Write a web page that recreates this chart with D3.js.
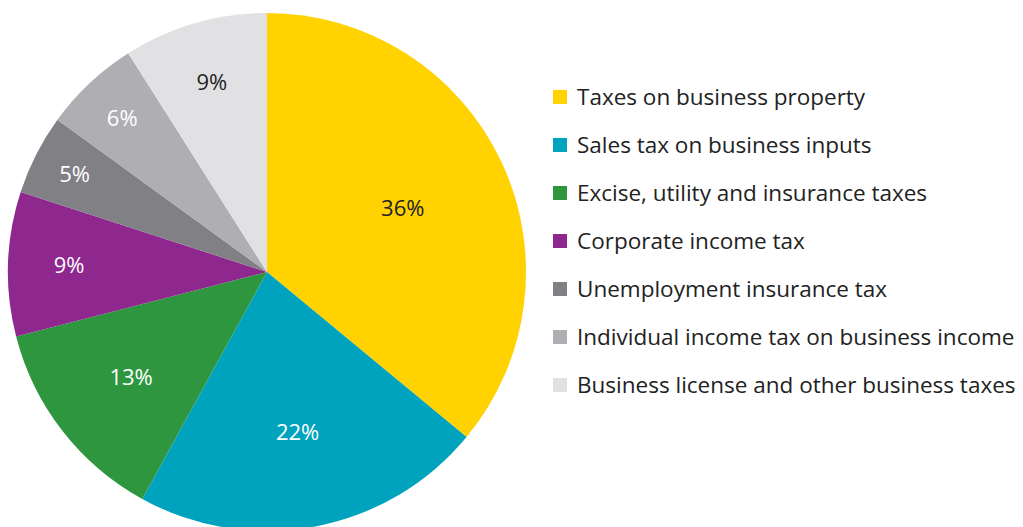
<!DOCTYPE html>
<html lang="en">
<head>
<meta charset="UTF-8">
<title>Business taxes pie</title>
<script src="https://cdn.jsdelivr.net/npm/d3@7"></script>
<style>
  body { margin: 0; background: #fff; }
  text { font-family: "Open Sans", "DejaVu Sans", sans-serif; }
</style>
</head>
<body>
<div id="container"></div>
<script>
// data
var categories = [
    "Taxes on business property",
    "Sales tax on business inputs",
    "Excise, utility and insurance taxes",
    "Corporate income tax",
    "Unemployment insurance tax",
    "Individual income tax on business income",
    "Business license and other business taxes"
];
var shares = [36, 22, 13, 9, 5, 6, 9];
var colors = ["#ffd200", "#00a3be", "#2e963f", "#8e278e", "#808085", "#afafb3", "#e1e1e4"];
var labelColors = ["#222", "#fff", "#fff", "#fff", "#fff", "#fff", "#222"];

var width = 1023, height = 527;
var cx = 267, cy = 272, radius = 259;

var svg = d3.select("#container").append("svg")
    .attr("width", width)
    .attr("height", height);

var g = svg.append("g")
    .attr("transform", "translate(" + cx + "," + cy + ")");

var pie = d3.pie().sort(null).value(d => d);
var arcs = pie(shares);

var arc = d3.arc().innerRadius(0).outerRadius(radius);

g.selectAll("path")
    .data(arcs)
    .enter().append("path")
    .attr("d", arc)
    .attr("fill", (d, i) => colors[i]);

// smaller slices get their label pushed further out
var labelR = d3.scaleLinear().domain([5, 9, 13, 36]).range([216, 198, 172, 150]).clamp(true);

g.selectAll("text.pct")
    .data(arcs)
    .enter().append("text")
    .attr("class", "pct")
    .attr("transform", function (d) {
        var r = labelR(d.data);
        var c = d3.arc().innerRadius(r).outerRadius(r).centroid(d);
        return "translate(" + c[0] + "," + c[1] + ")";
    })
    .attr("dy", "0.35em")
    .attr("text-anchor", "middle")
    .attr("font-size", 22)
    .attr("fill", (d, i) => labelColors[i])
    .text(d => d.data + "%");

// legend
var legend = svg.append("g")
    .attr("transform", "translate(553,97)");

var rows = legend.selectAll("g")
    .data(categories)
    .enter().append("g")
    .attr("transform", (d, i) => "translate(0," + i * 48 + ")");

rows.append("rect")
    .attr("x", 0)
    .attr("y", -7)
    .attr("width", 14)
    .attr("height", 14)
    .attr("fill", (d, i) => colors[i]);

rows.append("text")
    .attr("x", 24)
    .attr("dy", "0.35em")
    .attr("font-size", 22.5)
    .attr("fill", "#222")
    .text(d => d);
</script>
</body>
</html>
